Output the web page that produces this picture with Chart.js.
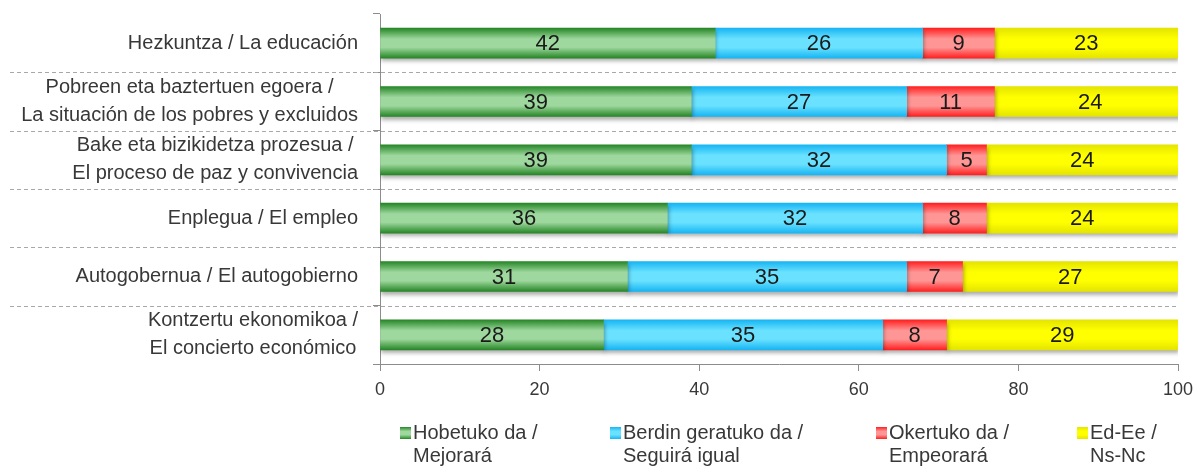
<!DOCTYPE html>
<html>
<head>
<meta charset="utf-8">
<script src="https://cdn.jsdelivr.net/npm/chart.js@4.4.1/dist/chart.umd.min.js"></script>
<style>
html,body{margin:0;padding:0;background:#ffffff;}
#wrap{width:1194px;height:468px;position:relative;}
</style>
</head>
<body>
<div id="wrap"><canvas id="c" width="1194" height="468"></canvas></div>
<script>
// ---- data ----
const categories = [
  ["Hezkuntza / La educación"],
  ["Pobreen eta baztertuen egoera /", "La situación de los pobres y excluidos"],
  ["Bake eta bizikidetza prozesua /", "El proceso de paz y convivencia"],
  ["Enplegua / El empleo"],
  ["Autogobernua / El autogobierno"],
  ["Kontzertu ekonomikoa /", "El concierto económico"]
];
const seriesNames = [
  ["Hobetuko da /", "Mejorará"],
  ["Berdin geratuko da /", "Seguirá igual"],
  ["Okertuko da /", "Empeorará"],
  ["Ed-Ee /", "Ns-Nc"]
];
const hobetuko = [42, 39, 39, 36, 31, 28];
const berdin   = [26, 27, 32, 32, 35, 35];
const okertuko = [9, 11, 5, 8, 7, 8];
const edee     = [23, 24, 24, 24, 27, 29];
const xTicks   = [0, 20, 40, 60, 80, 100];

// ---- styles ----
const FONT = "'Liberation Sans', Arial, sans-serif";
const palettes = [
  {edge: '#268626', mid: '#9ed89e'},
  {edge: '#17b5f3', mid: '#6ae2ff'},
  {edge: '#ff2020', mid: '#ff9696'},
  {edge: '#e4e400', mid: '#ffff00'}
];
const BAR_H = 30;

function grad(ctx, top, bottom, p) {
  const g = ctx.createLinearGradient(0, top, 0, bottom);
  g.addColorStop(0, p.edge);
  g.addColorStop(0.36, p.mid);
  g.addColorStop(0.64, p.mid);
  g.addColorStop(1, p.edge);
  return g;
}

const seriesData = [hobetuko, berdin, okertuko, edee];
const datasets = seriesData.map((d, i) => ({
  label: seriesNames[i].join(' '),
  data: d,
  backgroundColor: palettes[i].mid,
  borderWidth: 0,
  barThickness: BAR_H,
  clip: 0
}));

// gradient fills applied to the library's bar elements
const gradientPlugin = {
  id: 'barGradient',
  beforeDatasetsDraw(chart) {
    const ctx = chart.ctx;
    chart.data.datasets.forEach((ds, di) => {
      const meta = chart.getDatasetMeta(di);
      meta.data.forEach((el) => {
        const h = el.height || BAR_H;
        if (!isFinite(el.y)) return;
        const g = grad(ctx, el.y - h / 2, el.y + h / 2, palettes[di]);
        el.options = Object.assign({}, el.options, {backgroundColor: g});
      });
    });
  }
};

// separators (dashed lines between categories)
const separatorPlugin = {
  id: 'separators',
  beforeDatasetsDraw(chart) {
    const ys = chart.scales.y, ctx = chart.ctx;
    ctx.save();
    ctx.strokeStyle = '#a8a8a8';
    ctx.lineWidth = 1;
    ctx.setLineDash([4, 3]);
    for (let i = 1; i < categories.length; i++) {
      const y = Math.round((ys.getPixelForValue(i - 1) + ys.getPixelForValue(i)) / 2) + 0.5;
      ctx.beginPath();
      ctx.moveTo(10, y);
      ctx.lineTo(chart.chartArea.right, y);
      ctx.stroke();
    }
    ctx.restore();
  }
};

// bar shadows
const shadowPlugin = {
  id: 'barShadow',
  beforeDatasetsDraw(chart) {
    const ctx = chart.ctx;
    ctx.save();
    ctx.shadowColor = 'rgba(0,0,0,0.32)';
    ctx.shadowBlur = 4;
    ctx.shadowOffsetX = 1;
    ctx.shadowOffsetY = 3;
  },
  afterDatasetsDraw(chart) {
    chart.ctx.restore();
  }
};

// value labels inside segments
const valueLabelPlugin = {
  id: 'valueLabels',
  afterDatasetsDraw(chart) {
    const ctx = chart.ctx;
    ctx.save();
    ctx.font = '22px ' + FONT;
    ctx.fillStyle = '#1a1a1a';
    ctx.textAlign = 'center';
    ctx.textBaseline = 'middle';
    chart.data.datasets.forEach((ds, di) => {
      const meta = chart.getDatasetMeta(di);
      meta.data.forEach((el, i) => {
        const x = (el.x + el.base) / 2;
        ctx.fillText(String(ds.data[i]), x, el.y + 1);
      });
    });
    ctx.restore();
  }
};

// category labels (block right-aligned, lines centred)
const catLabelPlugin = {
  id: 'catLabels',
  afterDraw(chart) {
    const ys = chart.scales.y, ctx = chart.ctx;
    const right = chart.chartArea.left - 22;
    const lh = 28;
    ctx.save();
    ctx.font = '20px ' + FONT;
    ctx.fillStyle = '#383838';
    ctx.textAlign = 'center';
    ctx.textBaseline = 'middle';
    categories.forEach((lines, i) => {
      const yc = ys.getPixelForValue(i);
      const w = Math.max(...lines.map(l => ctx.measureText(l).width));
      const cx = right - w / 2;
      lines.forEach((l, k) => {
        const y = yc + (k - (lines.length - 1) / 2) * lh;
        ctx.fillText(l, cx, y);
      });
    });
    ctx.restore();
  }
};

// legend at the bottom
const legendPlugin = {
  id: 'bottomLegend',
  afterDraw(chart) {
    const ctx = chart.ctx;
    const boxX = [400, 610, 876, 1077];
    const boxY = 427, bw = 11, bh = 12;
    ctx.save();
    ctx.font = '20px ' + FONT;
    ctx.textAlign = 'left';
    ctx.textBaseline = 'middle';
    seriesNames.forEach((lines, i) => {
      ctx.fillStyle = grad(ctx, boxY, boxY + bh, palettes[i]);
      ctx.fillRect(boxX[i], boxY, bw, bh);
      ctx.fillStyle = '#383838';
      lines.forEach((l, k) => {
        ctx.fillText(l, boxX[i] + bw + 2, 433 + k * 23);
      });
    });
    ctx.restore();
  }
};

new Chart(document.getElementById('c'), {
  type: 'bar',
  data: {labels: categories.map(c => c.join(' ')), datasets},
  options: {
    indexAxis: 'y',
    responsive: false,
    animation: false,
    devicePixelRatio: 1,
    layout: {padding: {left: 0, top: 14, right: 16, bottom: 0}},
    plugins: {legend: {display: false}, tooltip: {enabled: false}},
    scales: {
      x: {
        stacked: true,
        min: 0,
        max: 100,
        afterBuildTicks(s) { s.ticks = xTicks.map(v => ({value: v})); },
        afterFit(s) { s.height = 104; s.paddingLeft = 0; s.paddingRight = 0; },
        grid: {display: true, drawOnChartArea: false, drawTicks: true, tickLength: 7, color: '#8c8c8c'},
        border: {display: true, color: '#8c8c8c', width: 1},
        ticks: {font: {family: FONT, size: 18}, color: '#383838', padding: 8, maxRotation: 0}
      },
      y: {
        stacked: true,
        afterFit(s) { s.width = 380; s.paddingTop = 0; s.paddingBottom = 0; },
        grid: {display: true, offset: true, drawOnChartArea: false, drawTicks: true, tickLength: 7, color: '#8c8c8c'},
        border: {display: true, color: '#8c8c8c', width: 1},
        ticks: {display: false}
      }
    }
  },
  plugins: [separatorPlugin, gradientPlugin, shadowPlugin, valueLabelPlugin, catLabelPlugin, legendPlugin]
});
</script>
</body>
</html>
